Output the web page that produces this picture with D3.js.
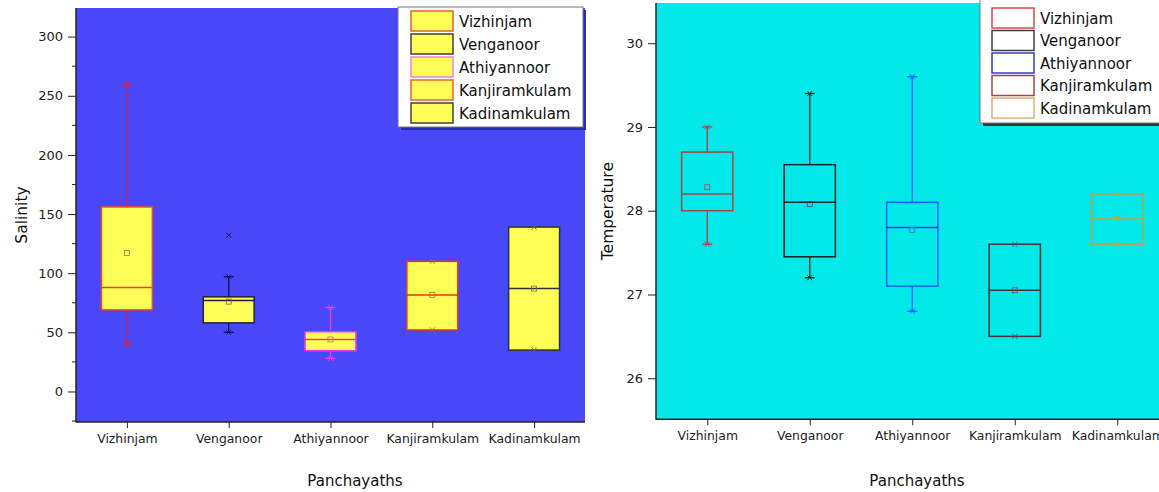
<!DOCTYPE html>
<html><head><meta charset="utf-8">
<script src="https://cdn.jsdelivr.net/npm/d3@7"></script>
<style>body{margin:0;background:#fff;} svg{display:block;font-family:"DejaVu Sans",sans-serif;} svg text{font-family:"DejaVu Sans",sans-serif;}</style>
</head><body>
<svg id="chart" width="1159" height="492"></svg>
<script>
const categories = ["Vizhinjam","Venganoor","Athiyannoor","Kanjiramkulam","Kadinamkulam"];

// Salinity box statistics
const salMin    = [40, 50, 28, 52, 35];
const salQ1     = [69, 58, 34.5, 52, 35];
const salMedian = [88, 77, 44, 81.5, 87];
const salQ3     = [156, 80, 50.5, 110, 139];
const salMax    = [260, 97, 71, 110, 139];
const salMean   = [117, 76, 44, 81.5, 87];
const salOutliers = [[], [132], [], [], []];
const salTicks  = [0, 50, 100, 150, 200, 250, 300];

// Temperature box statistics
const tmpMin    = [27.6, 27.2, 26.8, 26.5, 27.6];
const tmpQ1     = [28.0, 27.45, 27.1, 26.5, 27.6];
const tmpMedian = [28.2, 28.1, 27.8, 27.05, 27.9];
const tmpQ3     = [28.7, 28.55, 28.1, 27.6, 28.2];
const tmpMax    = [29.0, 29.4, 29.6, 27.6, 28.2];
const tmpMean   = [28.28, 28.08, 27.77, 27.05, 27.9];
const tmpOutliers = [[], [], [], [], []];
const tmpTicks  = [26, 27, 28, 29, 30];

const svg = d3.select("#chart");

function panel(o) {
  const g = svg.append("g");
  const x = d3.scaleLinear().domain([0.5, 5.5]).range([o.left, o.left + o.step * 5]);
  const y = d3.scaleLinear().domain(o.domain).range([o.bottom, o.top]);
  const right = o.clipRight ? Math.min(o.left + o.step*5, 1159) : o.left + o.step*5;
  g.append("rect").attr("x", o.left).attr("y", o.top).attr("width", right - o.left)
    .attr("height", o.bottom - o.top).attr("fill", o.bg);

  const bw = o.step * 0.5;
  categories.forEach((c, i) => {
    const cx = x(i + 1);
    const st = o.styles[i];
    if (o.max[i] > o.q3[i]) {
      g.append("line").attr("x1", cx).attr("x2", cx).attr("y1", y(o.q3[i])).attr("y2", y(o.max[i]))
        .attr("stroke", st.whisker).attr("stroke-width", 1.3);
      g.append("line").attr("x1", cx - 5).attr("x2", cx + 5).attr("y1", y(o.max[i])).attr("y2", y(o.max[i]))
        .attr("stroke", st.whisker).attr("stroke-width", 1.3);
    }
    if (o.min[i] < o.q1[i]) {
      g.append("line").attr("x1", cx).attr("x2", cx).attr("y1", y(o.q1[i])).attr("y2", y(o.min[i]))
        .attr("stroke", st.whisker).attr("stroke-width", 1.3);
      g.append("line").attr("x1", cx - 5).attr("x2", cx + 5).attr("y1", y(o.min[i])).attr("y2", y(o.min[i]))
        .attr("stroke", st.whisker).attr("stroke-width", 1.3);
    }
    g.append("rect").attr("x", cx - bw/2).attr("y", y(o.q3[i])).attr("width", bw)
      .attr("height", y(o.q1[i]) - y(o.q3[i])).attr("fill", o.fill).attr("stroke", st.box).attr("stroke-width", 1.5);
    g.append("line").attr("x1", cx - bw/2).attr("x2", cx + bw/2).attr("y1", y(o.median[i])).attr("y2", y(o.median[i]))
      .attr("stroke", st.median).attr("stroke-width", 1.5);
    g.append("rect").attr("x", cx - 2.5).attr("y", y(o.mean[i]) - 2.5).attr("width", 5).attr("height", 5)
      .attr("fill", "none").attr("stroke", st.mean).attr("stroke-width", 0.8);
    [o.min[i], o.max[i]].concat(o.outliers[i]).forEach(v => {
      const yy = y(v);
      g.append("path").attr("d", `M${cx-2.5},${yy-2.5}L${cx+2.5},${yy+2.5}M${cx-2.5},${yy+2.5}L${cx+2.5},${yy-2.5}`)
        .attr("stroke", st.marker).attr("stroke-width", 0.9).attr("fill", "none");
    });
  });

  const yAxis = d3.axisLeft(y).tickValues(o.ticks).tickSize(8).tickPadding(5).tickFormat(d3.format("d"));
  const ya = g.append("g").attr("transform", `translate(${o.left},0)`).call(yAxis);
  ya.attr("font-family", null);
  ya.select(".domain").remove();
  ya.selectAll("text").attr("font-size", 13).attr("fill", "#222");
  ya.selectAll("line").attr("stroke", "#222");
  if (o.minorTicks) {
    o.minorTicks.forEach(v => g.append("line").attr("x1", o.left - 4).attr("x2", o.left)
      .attr("y1", y(v)).attr("y2", y(v)).attr("stroke", "#222"));
  }
  const xAxis = d3.axisBottom(x).tickValues([1,2,3,4,5]).tickSize(6).tickPadding(6)
    .tickFormat(d => categories[d - 1]);
  const xa = g.append("g").attr("transform", `translate(0,${o.bottom})`).call(xAxis);
  xa.attr("font-family", null);
  xa.select(".domain").remove();
  xa.selectAll("text").attr("font-size", 12.4).attr("fill", "#222");
  xa.selectAll("line").attr("stroke", "#222");
  g.append("line").attr("x1", o.left).attr("x2", o.left).attr("y1", o.top).attr("y2", o.bottom + 0.5)
    .attr("stroke", "#222").attr("stroke-width", 1.5);
  g.append("line").attr("x1", o.left).attr("x2", right).attr("y1", o.bottom).attr("y2", o.bottom)
    .attr("stroke", "#222").attr("stroke-width", 1.5);

  g.append("text").attr("transform", `translate(${o.ytX},${(o.top + o.bottom)/2}) rotate(-90)`)
    .attr("text-anchor", "middle").attr("font-size", 15.5).attr("fill", "#111").text(o.yTitle);
  g.append("text").attr("x", o.xtX).attr("y", o.xtY).attr("text-anchor", "middle")
    .attr("font-size", 15).attr("fill", "#111").text("Panchayaths");

  const L = o.legend;
  if (L.shadow) {
    g.append("rect").attr("x", L.x + 3).attr("y", L.y + 3).attr("width", L.w).attr("height", L.h).attr("fill", L.shadow);
  }
  g.append("rect").attr("x", L.x).attr("y", L.y).attr("width", L.w).attr("height", L.h)
    .attr("fill", "#fff").attr("stroke", "#777").attr("stroke-width", 1);
  categories.forEach((c, i) => {
    const yy = L.y0 + i * L.dy;
    g.append("rect").attr("x", L.sx).attr("y", yy - 10).attr("width", 42).attr("height", 20)
      .attr("fill", L.fill).attr("stroke", L.colors[i]).attr("stroke-width", 1.5);
    g.append("text").attr("x", L.sx + 48).attr("y", yy + 5.5).attr("font-size", 15).attr("fill", "#111").text(c);
  });
}

panel({
  left: 76, step: 101.8, top: 8, bottom: 422, domain: [-25.8, 324.2], bg: "#4848f8", fill: "#ffff58",
  min: salMin, q1: salQ1, median: salMedian, q3: salQ3, max: salMax, mean: salMean, outliers: salOutliers,
  ticks: salTicks, minorTicks: [-25, 25, 75, 125, 175, 225, 275, 325].filter(v => v > -25.8 && v < 324.2),
  yTitle: "Salinity", ytX: 27, xtX: 355, xtY: 486,
  styles: [
    {box: "#f04a28", whisker: "#d8203c", median: "#f04020", mean: "#c07030", marker: "#d8203c"},
    {box: "#202030", whisker: "#101058", median: "#202030", mean: "#806040", marker: "#101058"},
    {box: "#ff30f0", whisker: "#ff30f0", median: "#f04060", mean: "#c07070", marker: "#ff30f0"},
    {box: "#ee3320", whisker: "#ee3320", median: "#e83020", mean: "#c07030", marker: "#e05030"},
    {box: "#303038", whisker: "#303038", median: "#303038", mean: "#707060", marker: "#606060"}
  ],
  legend: {x: 398, y: 7, w: 185, h: 120, shadow: "#2a2ab0", sx: 411, y0: 21, dy: 23, fill: "#ffff58",
    colors: ["#e86030", "#404040", "#f080e0", "#e86030", "#404040"]}
});

panel({
  left: 656, step: 102.5, top: 3, bottom: 419.3, domain: [25.51, 30.48], bg: "#03e9ea", fill: "none",
  clipRight: true,
  min: tmpMin, q1: tmpQ1, median: tmpMedian, q3: tmpQ3, max: tmpMax, mean: tmpMean, outliers: tmpOutliers,
  ticks: tmpTicks,
  yTitle: "Temperature", ytX: 613, xtX: 917, xtY: 486,
  styles: [
    {box: "#a04848", whisker: "#c03838", median: "#a04848", mean: "#a05050", marker: "#c03838"},
    {box: "#202020", whisker: "#202020", median: "#202020", mean: "#404040", marker: "#202020"},
    {box: "#1060ff", whisker: "#1060ff", median: "#1040d0", mean: "#4070c0", marker: "#1060ff"},
    {box: "#503030", whisker: "#503030", median: "#503030", mean: "#605050", marker: "#605050"},
    {box: "#c0a048", whisker: "#c0a048", median: "#c0a048", mean: "#c0a048", marker: "#c0a048"}
  ],
  legend: {x: 980, y: -1, w: 185, h: 124, shadow: "#333", sx: 992, y0: 18, dy: 22.5, fill: "#fff",
    colors: ["#e04848", "#404040", "#3040c0", "#a04848", "#e0b070"]}
});
</script>
</body></html>
